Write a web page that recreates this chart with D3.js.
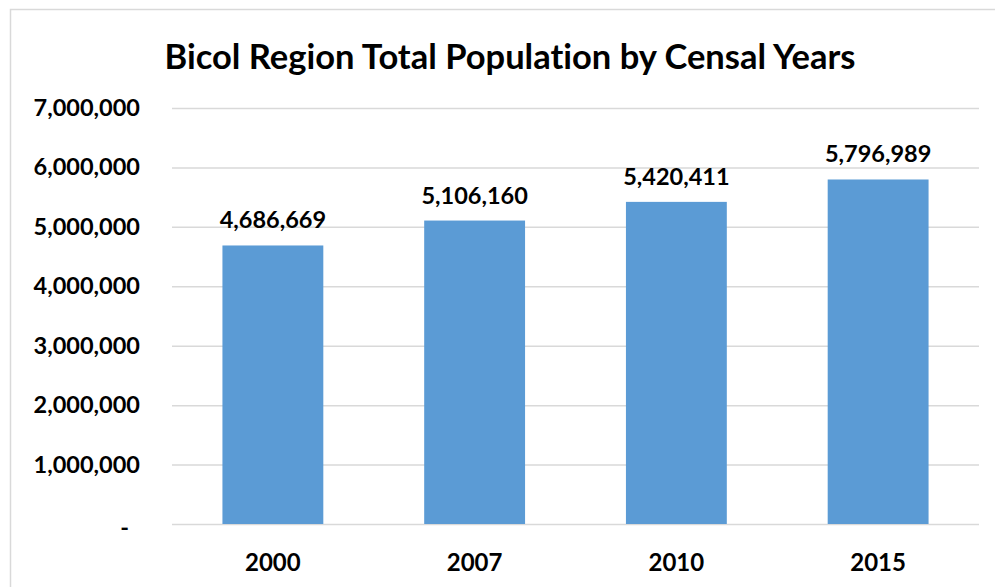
<!DOCTYPE html>
<html><head><meta charset="utf-8">
<script src="https://cdn.jsdelivr.net/npm/d3@7"></script>
<style>
html,body{margin:0;padding:0;background:#fff;}
text{font-family:Lato,"Open Sans",sans-serif;font-weight:bold;fill:#000;font-variant-ligatures:none;font-feature-settings:"liga" 0;}
</style></head>
<body><svg id="c" width="995" height="587"></svg>
<script>
const title = "Bicol Region Total Population by Censal Years";
const years = ["2000","2007","2010","2015"];
const population = [4686669, 5106160, 5420411, 5796989];
const yTicks = [0,1000000,2000000,3000000,4000000,5000000,6000000,7000000];

const svg = d3.select("#c");
svg.append("rect").attr("x",10.5).attr("y",9.5).attr("width",1000).attr("height",700)
  .attr("fill","#fff").attr("stroke","#D9D9D9").attr("stroke-width",1.5);

const m = {left:172, right:979, top:108, bottom:524};
const x = d3.scaleBand().domain(years).range([m.left,m.right]).paddingInner(0.5).paddingOuter(0.25);
const y = d3.scaleLinear().domain([0,7000000]).range([m.bottom,m.top]);

svg.append("text").attr("x",510).attr("y",55).attr("text-anchor","middle")
  .attr("dominant-baseline","central").style("font-size","34.5px").text(title);

const fmt = d3.format(",");
const yAxis = d3.axisLeft(y).tickValues(yTicks).tickSize(-(m.right-m.left))
  .tickFormat(d => d===0 ? "-" : fmt(d));
const gy = svg.append("g").attr("transform",`translate(${m.left},0)`).call(yAxis);
gy.select(".domain").remove();
gy.selectAll(".tick line").attr("stroke","#D9D9D9").attr("stroke-width",1.5);
gy.selectAll(".tick text").attr("x",-32).style("font-size","23.5px").attr("fill","#000");
gy.selectAll(".tick text").filter(d=>d===0).attr("x",-43).attr("dy","0.5em");

svg.selectAll("rect.bar").data(population).join("rect").attr("class","bar")
  .attr("x",(d,i)=>x(years[i])).attr("width",x.bandwidth())
  .attr("y",d=>y(d)).attr("height",d=>y(0)-y(d)).attr("fill","#5B9BD5");

svg.selectAll("text.val").data(population).join("text").attr("class","val")
  .attr("x",(d,i)=>x(years[i])+x.bandwidth()/2).attr("y",d=>y(d)-26)
  .attr("text-anchor","middle").attr("dominant-baseline","central")
  .style("font-size","23.5px").text(d=>fmt(d));

const xAxis = d3.axisBottom(x).tickSize(0);
const gx = svg.append("g").attr("transform",`translate(0,${m.bottom})`).call(xAxis);
gx.select(".domain").remove();
gx.selectAll(".tick text").attr("y",37).attr("dy","0").attr("dominant-baseline","central")
  .style("font-size","24px").attr("fill","#000");
</script></body></html>
